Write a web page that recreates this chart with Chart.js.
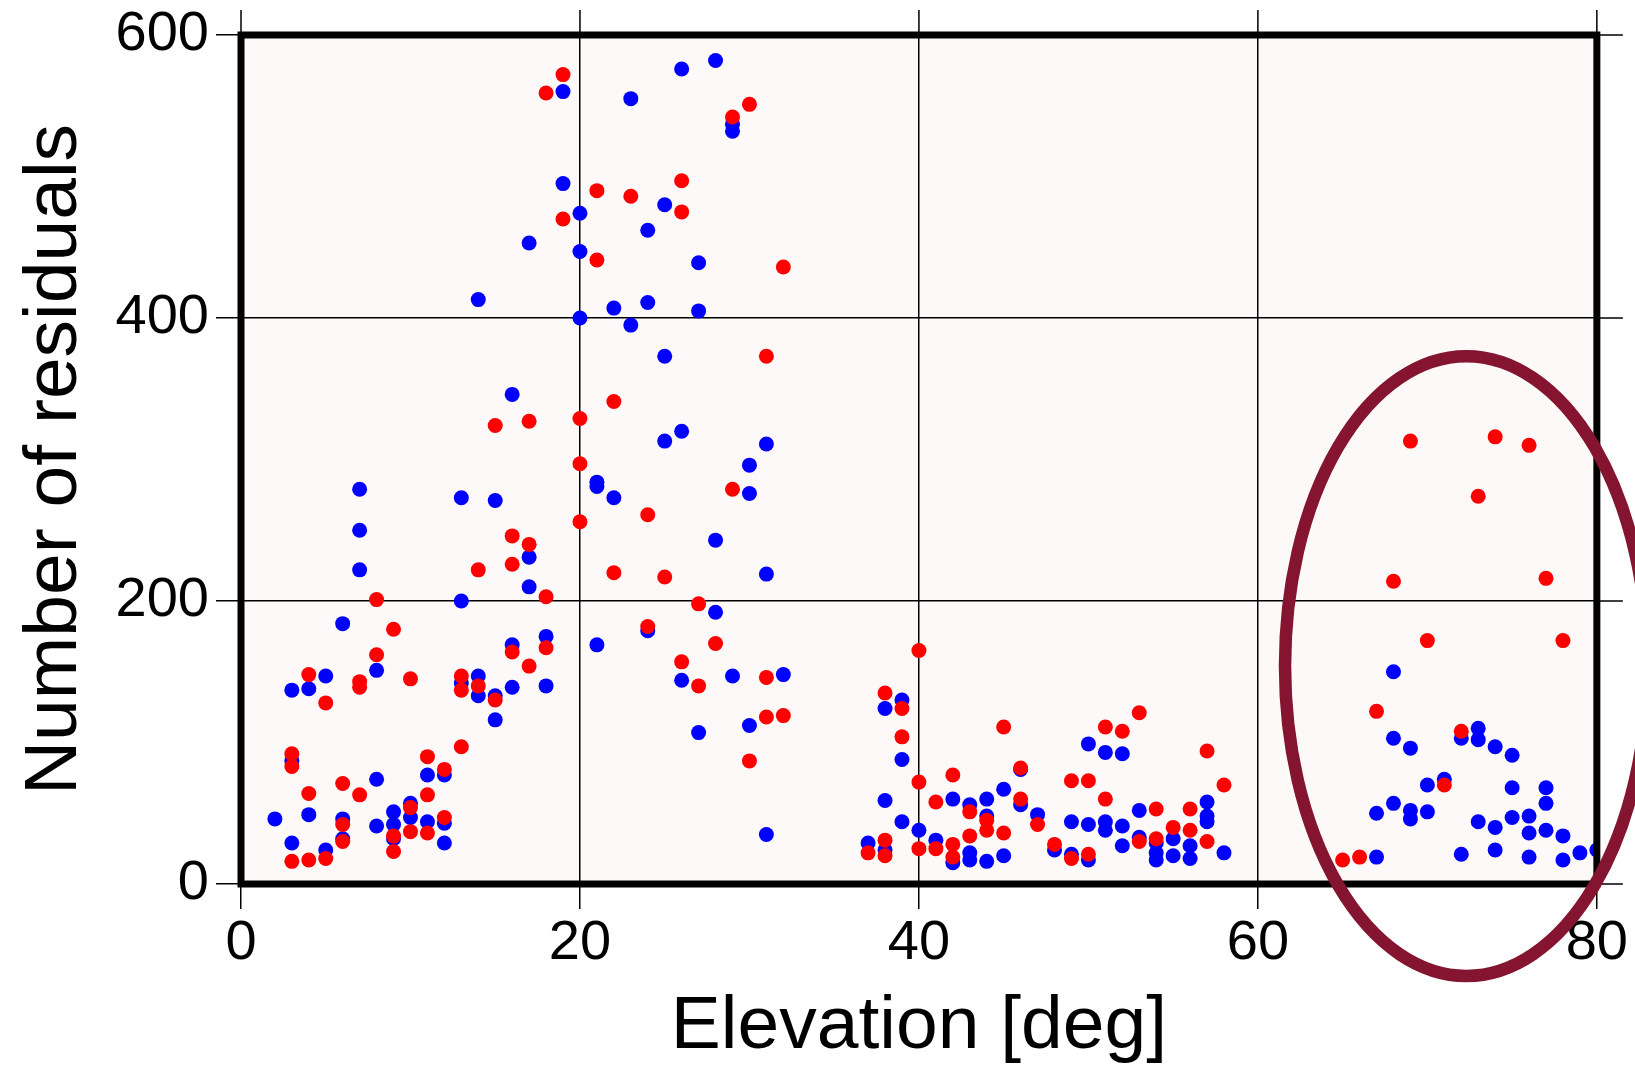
<!DOCTYPE html>
<html>
<head>
<meta charset="utf-8">
<title>Number of residuals vs elevation</title>
<script src="https://cdn.jsdelivr.net/npm/chart.js@4.4.1/dist/chart.umd.min.js"></script>
<style>
  html, body { margin: 0; padding: 0; background: #ffffff; }
  #wrap { width: 1635px; height: 1068px; }
</style>
</head>
<body>
<div id="wrap"><canvas id="chart" width="1635" height="1068"></canvas></div>
<script>
// Blue series: elevation [deg] and number of residuals
const blueElev = [
  2, 3, 3, 3, 4, 4, 5, 5, 6, 6, 6, 7, 7, 7, 8, 8, 8, 9, 9, 9, 10, 10, 11, 11, 12, 12, 12,
  13, 13, 13, 14, 14, 14, 15, 15, 15, 16, 16, 16, 17, 17, 17, 18, 18, 19, 19, 20, 20, 20,
  21, 21, 21, 22, 22, 23, 23, 24, 24, 24, 25, 25, 25, 26, 26, 26, 27, 27, 27, 28, 28, 28,
  29, 29, 29, 30, 30, 30, 31, 31, 31, 32,
  37, 38, 38, 38, 39, 39, 39, 40, 41, 42, 42, 43, 43, 43, 44, 44, 44, 45, 45, 46, 46, 47,
  48, 49, 49, 50, 50, 50, 51, 51, 51, 52, 52, 52, 53, 53, 54, 54, 54, 55, 55, 56, 56,
  57, 57, 57, 58,
  67, 67, 68, 68, 68, 69, 69, 69, 70, 70, 71, 72, 72, 73, 73, 73, 74, 74, 74, 75, 75, 75,
  76, 76, 76, 77, 77, 77, 78, 78, 79, 80
]
const blueCount = [
  46, 137, 87, 29, 138, 49, 147, 24, 184, 46, 32, 279, 250, 222, 151, 74, 41, 51, 42, 32, 57, 47, 77, 44, 77, 43, 29,
  273, 200, 142, 413, 147, 133, 271, 133, 116, 346, 169, 139, 453, 231, 210, 175, 140, 560, 495, 474, 447, 400,
  284, 281, 169, 407, 273, 555, 395, 462, 411, 179, 480, 373, 313, 576, 320, 144, 439, 405, 107, 582, 243, 192,
  537, 532, 147, 296, 276, 112, 311, 219, 35, 148,
  29, 124, 59, 24, 130, 88, 44, 38, 31, 60, 15, 56, 22, 17, 60, 48, 16, 67, 20, 81, 56, 49,
  24, 44, 21, 99, 42, 17, 93, 44, 38, 92, 41, 27, 52, 33, 29, 22, 17, 32, 20, 27, 18,
  58, 48, 44, 22,
  50, 19, 150, 103, 57, 96, 52, 46, 70, 51, 74, 103, 21, 110, 102, 44, 97, 40, 24, 91, 68, 47,
  48, 36, 19, 68, 57, 38, 34, 17, 22, 24
]

// Red series
const redElev = [
  3, 3, 3, 4, 4, 4, 5, 5, 6, 6, 6, 7, 7, 7, 8, 8, 9, 9, 9, 10, 10, 10, 11, 11, 11, 12, 12,
  13, 13, 13, 14, 14, 15, 15, 16, 16, 16, 17, 17, 17, 18, 18, 18, 19, 19, 20, 20, 20,
  21, 21, 22, 22, 23, 24, 24, 25, 26, 26, 26, 27, 27, 28, 29, 29, 30, 30, 31, 31, 31, 32, 32,
  37, 38, 38, 38, 39, 39, 40, 40, 40, 41, 41, 42, 42, 42, 43, 43, 44, 44, 45, 45, 46, 46,
  47, 48, 49, 49, 50, 50, 51, 51, 52, 53, 53, 54, 54, 55, 56, 56, 57, 57, 58,
  65, 66, 67, 68, 69, 70, 71, 72, 73, 74, 76, 77, 78
]
const redCount = [
  92, 83, 16, 148, 64, 17, 128, 18, 71, 42, 30, 143, 139, 63, 201, 162, 180, 34, 23, 145, 54, 37, 90, 63, 36, 81, 47,
  147, 137, 97, 222, 140, 324, 130, 246, 226, 164, 327, 240, 154, 559, 203, 167, 572, 470, 329, 297, 256,
  490, 441, 341, 220, 486, 261, 182, 217, 497, 475, 157, 198, 140, 170, 542, 279, 551, 87, 373, 146, 118, 436, 119,
  22, 135, 31, 20, 124, 104, 165, 72, 25, 58, 25, 77, 28, 19, 51, 34, 45, 38, 111, 36, 82, 60,
  42, 28, 73, 18, 73, 21, 111, 60, 108, 121, 30, 53, 32, 40, 53, 38, 94, 30, 70,
  17, 19, 122, 214, 313, 172, 70, 108, 274, 316, 310, 216, 172
]

const xTicks = [0, 20, 40, 60, 80]
const yTicks = [0, 200, 400, 600]

const toPoints = (xs, ys) => xs.map((x, i) => ({ x: x, y: ys[i] }))

const FONT = "'Liberation Sans', Arial, Helvetica, sans-serif"

// light pink plot background
const plotBackground = {
  id: "plotBackground",
  beforeDraw(chart) {
    const { ctx, chartArea: a } = chart
    ctx.save()
    ctx.fillStyle = "#fdf9f9"
    ctx.fillRect(a.left, a.top, a.right - a.left, a.bottom - a.top)
    ctx.restore()
  },
}

// thick frame plus outward ticks on top and right sides
const frame = {
  id: "frame",
  afterDatasetsDraw(chart) {
    const { ctx, chartArea: a, scales } = chart
    ctx.save()
    ctx.strokeStyle = "#000"
    ctx.lineWidth = 1.5
    ctx.beginPath()
    xTicks.forEach((v) => {
      const px = scales.x.getPixelForValue(v)
      ctx.moveTo(px, a.top)
      ctx.lineTo(px, a.top - 25)
    })
    yTicks.forEach((v) => {
      const py = scales.y.getPixelForValue(v)
      ctx.moveTo(a.right, py)
      ctx.lineTo(a.right + 26, py)
    })
    ctx.stroke()
    ctx.lineWidth = 7
    ctx.strokeRect(a.left, a.top, a.right - a.left, a.bottom - a.top)
    ctx.restore()
  },
}

// maroon ring around the high-elevation group
const ring = {
  id: "ring",
  afterDraw(chart) {
    const { ctx, scales } = chart
    const cx = scales.x.getPixelForValue(72.3)
    const cy = scales.y.getPixelForValue(154)
    const rx = scales.x.getPixelForValue(72.3 + 10.7) - cx
    const ry = cy - scales.y.getPixelForValue(154 + 219)
    ctx.save()
    ctx.beginPath()
    ctx.ellipse(cx, cy, rx, ry, 0, 0, Math.PI * 2)
    ctx.lineWidth = 12.5
    ctx.strokeStyle = "#84142f"
    ctx.stroke()
    ctx.restore()
  },
}

new Chart(document.getElementById("chart"), {
  type: "scatter",
  data: {
    datasets: [
      {
        label: "red",
        data: toPoints(redElev, redCount),
        backgroundColor: "#ff0000",
        borderWidth: 0,
        pointRadius: 7.5,
        pointHoverRadius: 7.5,
      },
      {
        label: "blue",
        data: toPoints(blueElev, blueCount),
        backgroundColor: "#0000ff",
        borderWidth: 0,
        pointRadius: 7.5,
        pointHoverRadius: 7.5,
      },
    ],
  },
  options: {
    responsive: false,
    animation: false,
    layout: { padding: { left: 0, right: 35, top: 33.5, bottom: 0 } },
    plugins: {
      legend: { display: false },
      tooltip: { enabled: false },
    },
    scales: {
      x: {
        type: "linear",
        min: 0,
        max: 80,
        afterFit: (scale) => { scale.height = 184 },
        ticks: {
          stepSize: 20,
          padding: 7,
          color: "#000",
          font: { family: FONT, size: 56, lineHeight: 1 },
        },
        grid: { color: "#000", lineWidth: 1.5, tickLength: 25 },
        border: { display: false },
        title: {
          display: true,
          text: "Elevation [deg]",
          color: "#000",
          font: { family: FONT, size: 75, lineHeight: 1 },
          padding: { top: 0, bottom: 3.5 },
        },
      },
      y: {
        type: "linear",
        min: 0,
        max: 600,
        afterFit: (scale) => { scale.width = 241 },
        ticks: {
          stepSize: 200,
          padding: 7,
          color: "#000",
          font: { family: FONT, size: 56, lineHeight: 1 },
        },
        grid: { color: "#000", lineWidth: 1.5, tickLength: 25 },
        border: { display: false },
        title: {
          display: true,
          text: "Number of residuals",
          color: "#000",
          font: { family: FONT, size: 75, lineHeight: 1 },
          padding: { top: 17.5, bottom: 0 },
        },
      },
    },
  },
  plugins: [plotBackground, frame, ring],
})
</script>
</body>
</html>
